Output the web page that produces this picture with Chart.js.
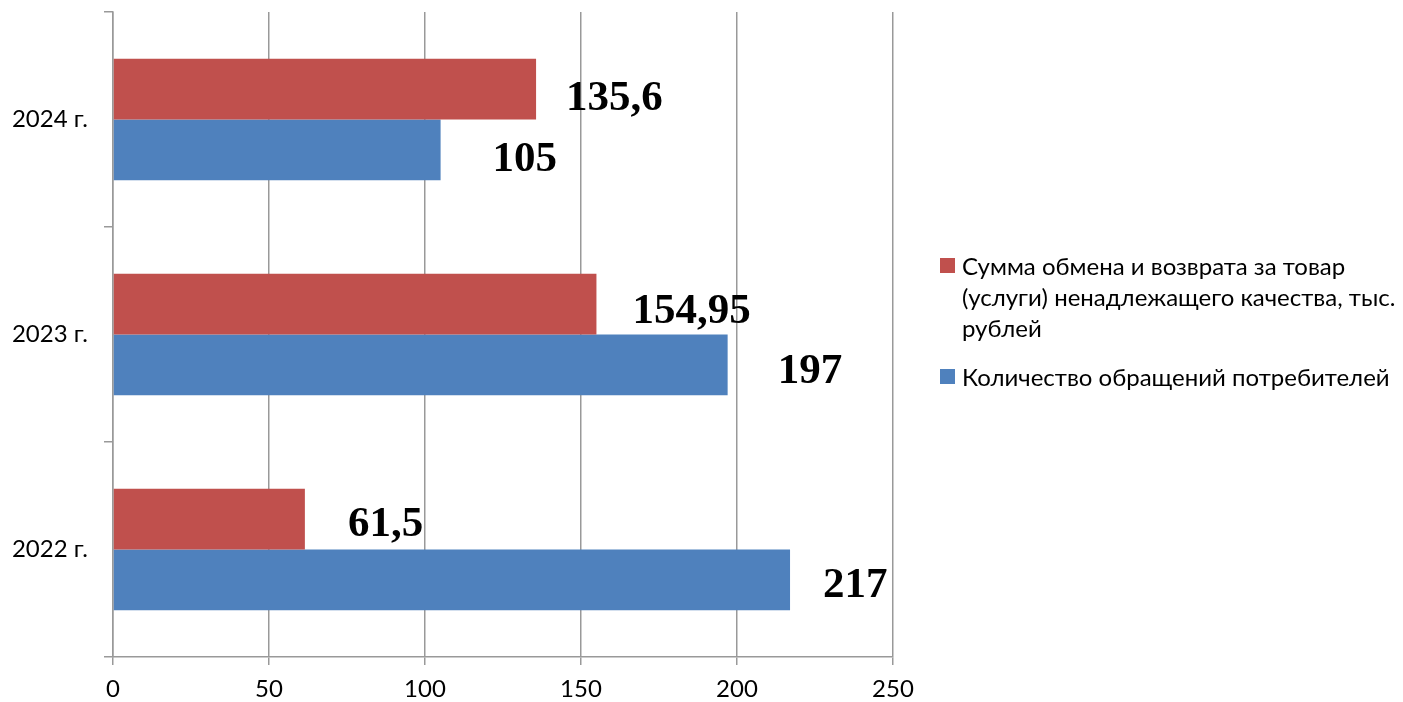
<!DOCTYPE html>
<html>
<head>
<meta charset="utf-8">
<script src="https://cdn.jsdelivr.net/npm/chart.js@4/dist/chart.umd.min.js"></script>
<style>
  html, body { margin: 0; padding: 0; background: #fff; }
  #wrap { position: relative; width: 1403px; height: 702px; }
  #legend { position: absolute; left: 940px; top: 250px; font-family: Lato, sans-serif; font-size: 24px; color: #000; }
  .item { position: relative; padding-left: 22px; line-height: 31px; }
  .item + .item { margin-top: 18px; }
  .box { position: absolute; left: 0; top: 8px; width: 15px; height: 15px; }
</style>
</head>
<body>
<div id="wrap">
  <canvas id="chart" width="1403" height="702"></canvas>
  <div id="legend"></div>
</div>
<script>
const years = ['2024 г.', '2023 г.', '2022 г.'];
const sumValues = [135.6, 154.95, 61.5];
const countValues = [105, 197, 217];
const sumLabels = ['135,6', '154,95', '61,5'];
const countLabels = ['105', '197', '217'];
const xTicks = [0, 50, 100, 150, 200, 250];

const sumName = 'Сумма обмена и возврата за товар (услуги) ненадлежащего качества, тыс. рублей';
const countName = 'Количество обращений потребителей';

// label placement, as moved by hand in the original
const labelGap = [[30, 36, 43], [52, 50, 33]];
const labelShift = [[6, 4, 2], [6, 3, 2]];

const gridColor = '#999999';

const valueLabels = {
  id: 'valueLabels',
  afterDatasetsDraw(chart) {
    const ctx = chart.ctx;
    ctx.save();
    ctx.font = 'bold 43px "Liberation Serif", "Times New Roman", serif';
    ctx.fillStyle = '#000';
    ctx.textAlign = 'left';
    ctx.textBaseline = 'alphabetic';
    chart.data.datasets.forEach((ds, di) => {
      chart.getDatasetMeta(di).data.forEach((bar, i) => {
        ctx.fillText(ds.valueText[i], bar.x + labelGap[di][i], bar.y + labelShift[di][i] + 15);
      });
    });
    ctx.restore();
  }
};

const chart = new Chart(document.getElementById('chart'), {
  type: 'bar',
  data: {
    labels: years,
    datasets: [
      { label: sumName, data: sumValues, valueText: sumLabels, backgroundColor: '#C0504D' },
      { label: countName, data: countValues, valueText: countLabels, backgroundColor: '#4F81BD' }
    ]
  },
  options: {
    indexAxis: 'y',
    responsive: false,
    animation: false,
    datasets: { bar: { barPercentage: 1, categoryPercentage: 0.565 } },
    layout: { padding: { top: 12, right: 510, left: 0, bottom: 0 } },
    plugins: { legend: { display: false }, tooltip: { enabled: false } },
    scales: {
      x: {
        min: 0, max: 250,
        afterBuildTicks(scale) { scale.ticks = xTicks.map(v => ({ value: v })); },
        afterFit(scale) { scale.height = 45; scale.paddingLeft = 0; scale.paddingRight = 0; },
        grid: { color: gridColor, lineWidth: 1.5, tickLength: 8 },
        border: { color: gridColor, width: 1.5 },
        ticks: { color: '#000', padding: 10, font: { family: 'Lato', size: 24 } }
      },
      y: {
        afterFit(scale) { scale.width = 113; scale.paddingTop = 0; scale.paddingBottom = 0; },
        grid: { offset: true, drawOnChartArea: false, color: gridColor, lineWidth: 1.5, tickLength: 9 },
        border: { color: gridColor, width: 1.5 },
        ticks: { color: '#000', padding: 16, font: { family: 'Lato', size: 24 } }
      }
    }
  },
  plugins: [valueLabels]
});

// legend with the wrapping of the original
const legendLines = [
  ['Сумма обмена и возврата за товар', '(услуги) ненадлежащего качества, тыс.', 'рублей'],
  ['Количество обращений потребителей']
];
const legend = document.getElementById('legend');
chart.data.datasets.forEach((ds, i) => {
  const item = document.createElement('div');
  item.className = 'item';
  const box = document.createElement('span');
  box.className = 'box';
  box.style.background = ds.backgroundColor;
  item.appendChild(box);
  legendLines[i].forEach((line, k) => {
    if (k) item.appendChild(document.createElement('br'));
    item.appendChild(document.createTextNode(line));
  });
  legend.appendChild(item);
});
</script>
</body>
</html>
